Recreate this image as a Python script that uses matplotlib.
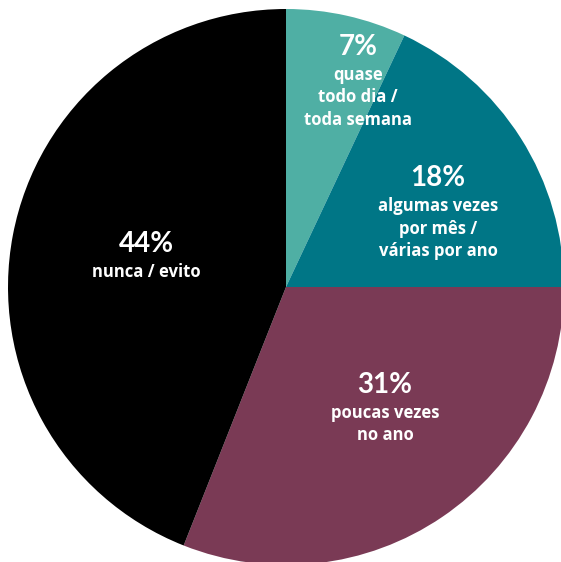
import matplotlib.pyplot as plt

# data
shares = [7, 18, 31, 44]
pct_labels = ['7%', '18%', '31%', '44%']
cat_labels = [['quase', 'todo dia /', 'toda semana'],
              ['algumas vezes', 'por mês /', 'várias por ano'],
              ['poucas vezes', 'no ano'],
              ['nunca / evito']]
colors = ['#4FAFA4', '#007686', '#7A3A55', '#000000']

# label positions in pixel space (x, y from top)
pct_pos = [(358, 47), (438, 178), (385, 385), (146, 244)]

W, H = 561, 562
fig = plt.figure(figsize=(W / 100, H / 100), dpi=100)
ax = fig.add_axes([0, 0, 1, 1])

ax.pie(shares, colors=colors, startangle=90, counterclock=False,
       center=(286, H - 287), radius=278, frame=True,
       wedgeprops=dict(linewidth=0))
ax.set_xlim(0, W)
ax.set_ylim(0, H)
ax.set_aspect('equal')
ax.axis('off')

for (px, py), p, lines in zip(pct_pos, pct_labels, cat_labels):
    ax.text(px, H - py, p, ha='center', va='center', color='white',
            fontsize=20, fontfamily='Lato', fontweight='bold')
    for i, line in enumerate(lines):
        ax.text(px, H - (py + 28 + 22.5 * i), line, ha='center',
                va='center', color='white', fontsize=12,
                fontfamily='Open Sans', fontweight='bold')

fig.savefig('out.png', dpi=100)
